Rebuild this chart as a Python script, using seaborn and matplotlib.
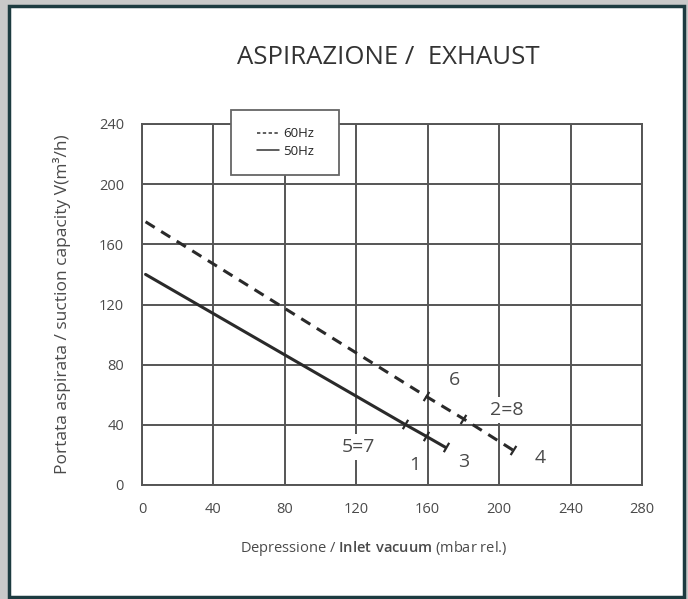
import numpy as np
import pandas as pd
import matplotlib.pyplot as plt
import seaborn as sns
from matplotlib.patches import Rectangle
from matplotlib.lines import Line2D

# curve points (vacuum mbar, flow m3/h)
vac_60 = [2, 159, 180, 208]
flow_60 = [175, 59, 44, 23]
vac_50 = [2, 147, 159, 170]
flow_50 = [140, 40.5, 32.5, 25]

# point labels
lab_text = ["6", "2=8", "4", "3", "1", "5=7"]
lab_x = [175, 204, 223, 180, 153, 121]
lab_y = [70, 50, 18, 15, 13, 25]

x_ticks = [0, 40, 80, 120, 160, 200, 240, 280]
y_ticks = [0, 40, 80, 120, 160, 200, 240]

df60 = pd.DataFrame({"vac": vac_60, "flow": flow_60})
df50 = pd.DataFrame({"vac": vac_50, "flow": flow_50})

sns.set_style("white")
plt.rcParams['font.family'] = ['Open Sans', 'DejaVu Sans']
plt.rcParams['mathtext.fontset'] = 'custom'
plt.rcParams['mathtext.rm'] = 'Open Sans'
plt.rcParams['mathtext.bf'] = 'Open Sans:semibold'

fig = plt.figure(figsize=(6.88, 5.99), dpi=100)
fig.patch.set_facecolor("#c9c9c9")
# white card with dark border
fig.patches.append(Rectangle((9 / 688, 2 / 599), 675 / 688, 591 / 599,
                             transform=fig.transFigure, facecolor="white",
                             edgecolor="#1d3b40", linewidth=2.5, zorder=-10))

ax = fig.add_axes([142 / 688, 1 - 485 / 599, 500 / 688, 361 / 599])
ax.set_zorder(1)
ax.set_facecolor("white")
ink = "#4a4a4a"

sns.lineplot(data=df60, x="vac", y="flow", ax=ax, color="#2a2a2a",
             linewidth=2.2, linestyle=(0, (3.5, 2.5)), zorder=3)
sns.lineplot(data=df50, x="vac", y="flow", ax=ax, color="#2a2a2a",
             linewidth=2.2, zorder=3)

# small cross ticks on the curves
ax.scatter(vac_60[1:], flow_60[1:], marker=(2, 0, -32), s=60,
           color="#2a2a2a", linewidths=1.6, zorder=4)
ax.scatter(vac_50[1:], flow_50[1:], marker=(2, 0, -30), s=60,
           color="#2a2a2a", linewidths=1.6, zorder=4)

for t, x, y in zip(lab_text, lab_x, lab_y):
    ax.text(x, y, t, fontsize=14, color=ink, ha="center", va="center",
            zorder=2, bbox=dict(facecolor="white", edgecolor="none", pad=3))

ax.set_xlim(0, 280)
ax.set_ylim(0, 240)
ax.set_xticks(x_ticks)
ax.set_yticks(y_ticks)
ax.grid(True, color="#555555", linewidth=1.4)
ax.set_axisbelow(True)
for s in ax.spines.values():
    s.set_color("#555555")
    s.set_linewidth(1.4)
ax.tick_params(axis="both", length=0, labelsize=10.5, labelcolor=ink)
ax.tick_params(axis="x", pad=12)
ax.tick_params(axis="y", pad=13)

ax.set_xlabel("")
ax.set_ylabel("Portata aspirata / suction capacity V(m³/h)", fontsize=12.5,
              color=ink, labelpad=20)

fig.text(388 / 688, 1 - 57 / 599, "ASPIRAZIONE /  EXHAUST", fontsize=18.5,
         color="#333333", ha="center", va="center")
fig.text(374 / 688, 1 - 549 / 599,
         r"Depressione / $\mathbf{Inlet\ vacuum}$ (mbar rel.)",
         fontsize=10.5, color=ink, ha="center", va="center")

# legend box
ax.add_patch(Rectangle((50, 206), 60.5, 43, facecolor="white",
                       edgecolor="#666666", linewidth=1.3, clip_on=False,
                       zorder=5))
handles = [Line2D([], [], color="#333333", linestyle=(0, (2.2, 1.6)), linewidth=1.1),
           Line2D([], [], color="#333333", linewidth=1.1)]
leg = ax.legend(handles, ["60Hz", "50Hz"], loc="center",
                bbox_to_anchor=(80.5 / 280, 227.5 / 240), fontsize=9.5,
                handlelength=1.6, handletextpad=0.35, frameon=False,
                labelspacing=0.35, borderaxespad=0, borderpad=0)
leg.set_zorder(6)

fig.savefig("out.png", dpi=100, facecolor=fig.get_facecolor())
